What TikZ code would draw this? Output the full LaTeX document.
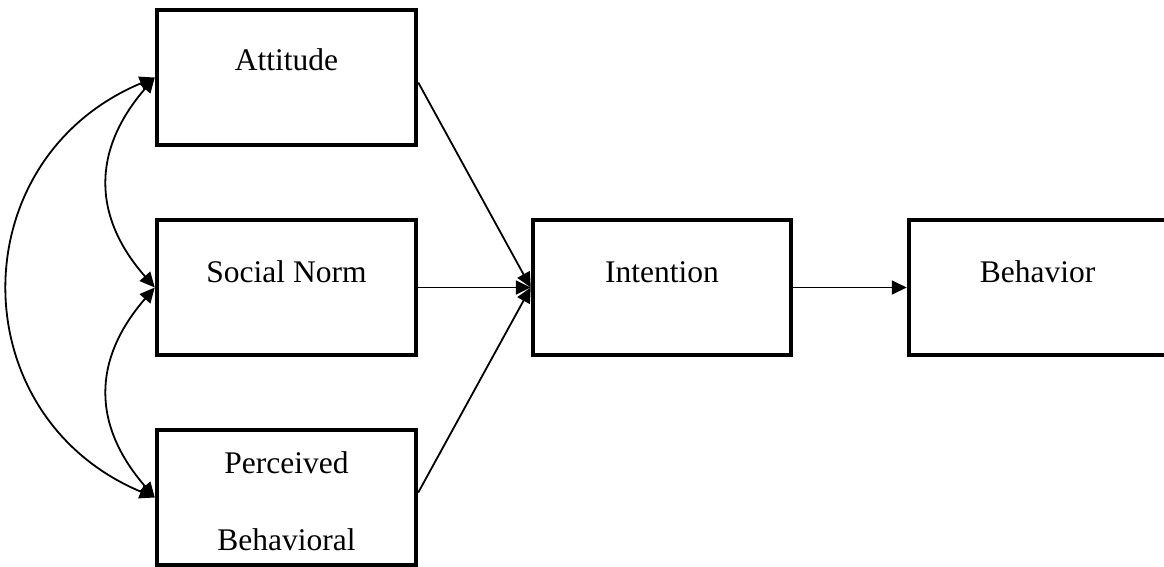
\documentclass[tikz,border=0pt]{standalone}
\usepackage{fontspec}
\setmainfont{Liberation Serif}
\usetikzlibrary{arrows.meta}
\begin{document}
\begin{tikzpicture}[x=1pt,y=-1pt,
  box/.style={draw,line width=4.5pt,minimum width=259pt,minimum height=135pt,inner sep=0pt},
  lbl/.style={font=\fontsize{31.5}{38}\selectfont,inner sep=0pt},
  conn/.style={line width=1.8pt,-{Triangle[length=15pt,width=14pt]}},
  dconn/.style={line width=1.8pt,{Triangle[length=15pt,width=14pt]}-{Triangle[length=15pt,width=14pt]}}]
\useasboundingbox (0,0) rectangle (1164,567);
\node[box] (att) at (286.5,77.5) {};
\node[box] (soc) at (286.5,287.5) {};
\node[box] (per) at (286.5,497.5) {};
\node[box,minimum width=258pt] (int) at (662,287.5) {};
\node[box,minimum width=257pt] (beh) at (1037.5,287.5) {};
\node[lbl] (tatt) at (286.5,60) {Attitude};
\node[lbl] (tsoc) at (286.5,272) {Social Norm};
\node[lbl] (tper1) at (286.5,463) {Perceived};
\node[lbl] (tper2) at (286.5,540) {Behavioral};
\node[lbl] (tint) at (662,272) {Intention};
\node[lbl] (tbeh) at (1037.5,272) {Behavior};
\draw[dconn] (att.west) .. controls (-40,159) and (-40,416) .. (per.west);
\draw[dconn] (att.west) .. controls (92,150) and (92,216) .. (soc.west);
\draw[dconn] (soc.west) .. controls (92,360) and (92,425) .. (per.west);
\draw[conn] ([yshift=-5pt]att.east) -- (int.west);
\draw[conn] (soc.east) -- (int.west);
\draw[conn] ([yshift=5pt]per.east) -- (int.west);
\draw[conn] (int.east) -- (beh.west);
\end{tikzpicture}
\end{document}
